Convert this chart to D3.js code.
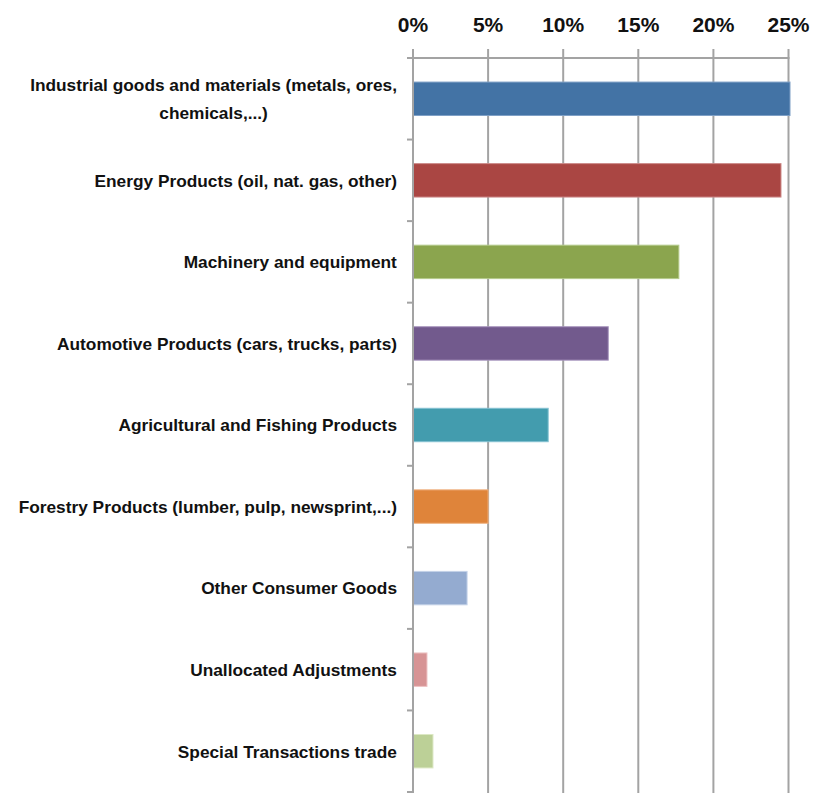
<!DOCTYPE html>
<html>
<head>
<meta charset="utf-8">
<script src="https://cdn.jsdelivr.net/npm/d3@7"></script>
<style>
  html, body { margin: 0; padding: 0; background: #fff; }
  svg text { font-family: "Liberation Sans", Arial, sans-serif; font-weight: bold; fill: #111; }
</style>
</head>
<body>
<svg id="chart" width="819" height="793"></svg>
<script>
// Share of exports by product group (%)
const categories = [
  ["Industrial goods and materials (metals, ores,", "chemicals,...)"],
  ["Energy Products (oil, nat. gas, other)"],
  ["Machinery and equipment"],
  ["Automotive Products (cars, trucks, parts)"],
  ["Agricultural and Fishing Products"],
  ["Forestry Products (lumber, pulp, newsprint,...)"],
  ["Other Consumer Goods"],
  ["Unallocated Adjustments"],
  ["Special Transactions trade"]
];
const values = [25.1, 24.5, 17.7, 13.0, 9.0, 5.0, 3.6, 0.93, 1.33];
const colors = ["#4373A5", "#AA4643", "#8BA54E", "#725A8D", "#439CAE", "#DF843A", "#94ABD0", "#D79495", "#BCD097"];
const strokes = ["#7FA0C6", "#CC8A88", "#B5CB8C", "#A896BE", "#85C2D2", "#F0B383", "#C4D2E8", "#EDC2C3", "#DCE8C4"];
const tickValues = [0, 5, 10, 15, 20, 25];

const svg = d3.select("#chart");
const plotLeft = 413, plotRight = 788.5, plotTop = 58, plotBottom = 792;

const x = d3.scaleLinear().domain([0, 25]).range([plotLeft, plotRight]);
const y = d3.scaleBand().domain(d3.range(categories.length)).range([plotTop, plotBottom]).paddingInner(0.59).paddingOuter(0.295);
const yEdges = d3.scaleLinear().domain([0, categories.length]).range([plotTop, plotBottom]);

const grid = "#a3a3a3";

// vertical gridlines with tick stubs above the top axis
svg.append("g").selectAll("line").data(tickValues).join("line")
  .attr("x1", d => x(d)).attr("x2", d => x(d))
  .attr("y1", plotTop - 9).attr("y2", plotBottom + 2)
  .attr("stroke", grid).attr("stroke-width", 2);

// top axis line
svg.append("line").attr("x1", plotLeft - 6).attr("x2", x(25) + 1)
  .attr("y1", plotTop).attr("y2", plotTop).attr("stroke", grid).attr("stroke-width", 2);

// top tick labels
svg.append("g").selectAll("text").data(tickValues).join("text")
  .attr("x", d => x(d)).attr("y", 31.5)
  .attr("text-anchor", "middle")
  .style("font-size", "21px")
  .text(d => d + "%");

// bars
svg.append("g").selectAll("rect").data(values).join("rect")
  .attr("x", x(0))
  .attr("y", (d, i) => y(i))
  .attr("width", d => x(d) - x(0))
  .attr("height", y.bandwidth())
  .attr("fill", (d, i) => colors[i])
  .attr("stroke", (d, i) => strokes[i])
  .attr("stroke-width", 1);

// category axis line with outward ticks at band edges
svg.append("line").attr("x1", plotLeft).attr("x2", plotLeft)
  .attr("y1", plotTop).attr("y2", plotBottom + 2).attr("stroke", grid).attr("stroke-width", 2);
svg.append("g").selectAll("line").data(d3.range(1, categories.length + 1)).join("line")
  .attr("x1", plotLeft - 6).attr("x2", plotLeft)
  .attr("y1", d => yEdges(d)).attr("y2", d => yEdges(d))
  .attr("stroke", grid).attr("stroke-width", 2);

// category labels, right-aligned block, lines centred within the block
const labelRight = 397, lineH = 28, fs = 17.3;
const lg = svg.append("g");
categories.forEach((lines, i) => {
  const cy = y(i) + y.bandwidth() / 2;
  const t = lg.append("text").style("font-size", fs + "px").attr("text-anchor", "middle");
  const y0 = cy - (lines.length - 1) * lineH / 2 + 6.3;
  lines.forEach((s, j) => {
    t.append("tspan").attr("x", 0).attr("y", y0 + j * lineH).text(s);
  });
  const w = t.node().getBBox().width;
  t.selectAll("tspan").attr("x", labelRight - w / 2);
});
</script>
</body>
</html>
